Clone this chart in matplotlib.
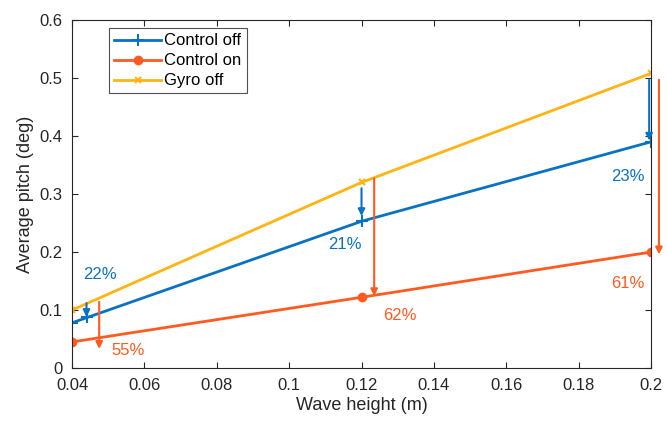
import matplotlib

matplotlib.use("Agg")

import matplotlib.pyplot as plt

plt.rcParams["font.family"] = ["Liberation Sans", "DejaVu Sans"]

# series data
wave_height = [0.04, 0.12, 0.2]
control_off = [0.078, 0.253, 0.39]
control_on = [0.045, 0.122, 0.2]
gyro_off = [0.1, 0.32, 0.508]

# reduction arrows: (x, y_start, y_end)
blue_arrows = [(0.044, 0.112, 0.088), (0.12, 0.31, 0.262), (0.1995, 0.497, 0.392)]
orange_arrows = [(0.0475, 0.114, 0.033), (0.1235, 0.327, 0.124), (0.2022, 0.497, 0.196)]

# percentage labels: (text, x, y)
blue_labels = [("22%", 0.0477, 0.162), ("21%", 0.1155, 0.213), ("23%", 0.1935, 0.33)]
orange_labels = [("55%", 0.0555, 0.03), ("62%", 0.1305, 0.09), ("61%", 0.1935, 0.146)]

BLUE = "#0a72c2"
ORANGE = "#FF5A1F"
YELLOW = "#FFB414"

fig = plt.figure(figsize=(6.67, 4.26), dpi=100)
ax = fig.add_axes([0.108, 0.136, 0.868, 0.817])

ax.plot(wave_height, control_off, color=BLUE, lw=2, marker="+", ms=8, mew=1.5, label="Control off")
ax.plot(wave_height, control_on, color=ORANGE, lw=2, marker="o", ms=6, label="Control on")
ax.plot(wave_height, gyro_off, color=YELLOW, lw=2, marker="x", ms=5, mew=1.5, label="Gyro off")

for color, arrows in ((BLUE, blue_arrows), (ORANGE, orange_arrows)):
    for x, y0, y1 in arrows:
        ax.annotate(
            "",
            xy=(x, y1),
            xytext=(x, y0),
            arrowprops=dict(arrowstyle="-|>", color=color, lw=1.5, mutation_scale=10, shrinkA=0, shrinkB=0),
            annotation_clip=False,
        )
# small cross where the first blue arrow meets its line
ax.plot([blue_arrows[0][0]], [blue_arrows[0][2]], marker="+", color=BLUE, ms=8, mew=1.5)

for color, labels in ((BLUE, blue_labels), (ORANGE, orange_labels)):
    for txt, x, y in labels:
        ax.text(x, y, txt, color=color, fontsize=12, ha="center", va="center")

ax.set_xlim(0.04, 0.2)
ax.set_ylim(0, 0.6)
ax.set_xticks([0.04, 0.06, 0.08, 0.1, 0.12, 0.14, 0.16, 0.18, 0.2])
ax.set_xticklabels(["0.04", "0.06", "0.08", "0.1", "0.12", "0.14", "0.16", "0.18", "0.2"])
ax.set_yticks([0, 0.1, 0.2, 0.3, 0.4, 0.5, 0.6])
ax.set_yticklabels(["0", "0.1", "0.2", "0.3", "0.4", "0.5", "0.6"])
ax.tick_params(direction="in", labelsize=12, colors="#262626", top=True, right=True, length=4)
ax.tick_params(axis="x", pad=7)
ax.tick_params(axis="y", pad=7)
for s in ax.spines.values():
    s.set_color("#262626")
    s.set_linewidth(0.8)
ax.set_xlabel("Wave height (m)", fontsize=13, color="#262626", labelpad=3)
ax.set_ylabel("Average pitch (deg)", fontsize=13, color="#262626", labelpad=4)

leg = ax.legend(loc="upper left", bbox_to_anchor=(0.05, 1.0), fontsize=12, frameon=True,
                fancybox=False, edgecolor="#262626", handlelength=2.8, borderpad=0.3,
                labelspacing=0.3, handletextpad=0.2)
leg.get_frame().set_linewidth(0.8)

fig.savefig("out.png", dpi=100)
